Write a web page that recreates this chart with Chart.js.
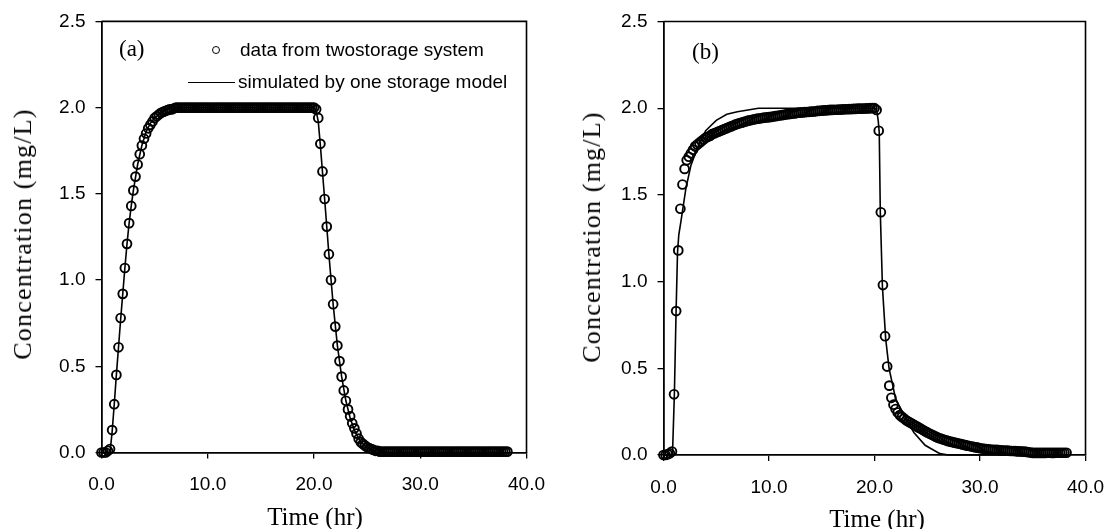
<!DOCTYPE html>
<html lang="en">
<head>
<meta charset="UTF-8">
<title>Concentration vs time, two storage / one storage</title>
<script src="https://cdn.jsdelivr.net/npm/chart.js"></script>
<style>
  body { margin: 0; background: #fff; }
  #wrap { position: relative; width: 1119px; height: 529px; overflow: hidden; }
  canvas { position: absolute; top: 0; }
  .serif { position: absolute; font-family: 'Liberation Serif', 'Times New Roman', serif; color: #000; white-space: nowrap; }
  .ytitle { font-size: 26px; letter-spacing: 1.2px; transform: translate(-50%, -50%) rotate(-90deg); }
  .xtitle { font-size: 25px; transform: translate(-50%, -50%); }
  .tag { font-size: 23px; transform: translateY(-50%); }
  .leg { position: absolute; font-family: 'Liberation Sans', Arial, sans-serif; font-size: 19px; color: #000; white-space: nowrap; transform: translateY(-50%); }
  .legmark { position: absolute; width: 6px; height: 6px; border: 1.8px solid #000; border-radius: 50%; transform: translate(-50%, -50%); }
  .legline { position: absolute; height: 0; border-top: 1.6px solid #000; }
</style>
</head>
<body>
<div id="wrap">
  <canvas id="chartA" width="560" height="529" style="left:0"></canvas>
  <canvas id="chartB" width="559" height="529" style="left:560px"></canvas>

  <div class="serif ytitle" style="left:23px; top:234px">Concentration (mg/L)</div>
  <div class="serif xtitle" style="left:315px; top:517px">Time (hr)</div>
  <div class="serif ytitle" style="left:592px; top:237px">Concentration (mg/L)</div>
  <div class="serif xtitle" style="left:877px; top:519px">Time (hr)</div>

  <div class="serif tag" style="left:119px; top:49px">(a)</div>
  <div class="serif tag" style="left:692px; top:52px">(b)</div>

  <div class="legmark" style="left:216px; top:50px"></div>
  <div class="leg" style="left:240px; top:50px">data from twostorage system</div>
  <div class="legline" style="left:188px; top:82px; width:47px"></div>
  <div class="leg" style="left:238px; top:82px">simulated by one storage model</div>
</div>

<script>
// sampling times of the "data" circles (hr)
const sampleTimes = [
  0, 0.2, 0.4, 0.6, 0.8, 1, 1.2, 1.4, 1.6, 1.8,
  2, 2.2, 2.4, 2.6, 2.8, 3, 3.2, 3.4, 3.6, 3.8,
  4, 4.2, 4.4, 4.6, 4.8, 5, 5.2, 5.4, 5.6, 5.8,
  6, 6.2, 6.4, 6.6, 6.8, 7, 7.2, 7.4, 7.6, 7.8,
  8, 8.2, 8.4, 8.6, 8.8, 9, 9.2, 9.4, 9.6, 9.8,
  10, 10.2, 10.4, 10.6, 10.8, 11, 11.2, 11.4, 11.6, 11.8,
  12, 12.2, 12.4, 12.6, 12.8, 13, 13.2, 13.4, 13.6, 13.8,
  14, 14.2, 14.4, 14.6, 14.8, 15, 15.2, 15.4, 15.6, 15.8,
  16, 16.2, 16.4, 16.6, 16.8, 17, 17.2, 17.4, 17.6, 17.8,
  18, 18.2, 18.4, 18.6, 18.8, 19, 19.2, 19.4, 19.6, 19.8,
  20, 20.2, 20.4, 20.6, 20.8, 21, 21.2, 21.4, 21.6, 21.8,
  22, 22.2, 22.4, 22.6, 22.8, 23, 23.2, 23.4, 23.6, 23.8,
  24, 24.2, 24.4, 24.6, 24.8, 25, 25.2, 25.4, 25.6, 25.8,
  26, 26.2, 26.4, 26.6, 26.8, 27, 27.2, 27.4, 27.6, 27.8,
  28, 28.2, 28.4, 28.6, 28.8, 29, 29.2, 29.4, 29.6, 29.8,
  30, 30.2, 30.4, 30.6, 30.8, 31, 31.2, 31.4, 31.6, 31.8,
  32, 32.2, 32.4, 32.6, 32.8, 33, 33.2, 33.4, 33.6, 33.8,
  34, 34.2, 34.4, 34.6, 34.8, 35, 35.2, 35.4, 35.6, 35.8,
  36, 36.2, 36.4, 36.6, 36.8, 37, 37.2, 37.4, 37.6, 37.8,
  38, 38.2
];

// (a) data from two storage system (mg/L)
const dataA = [
  0, 0, 0, 0.01, 0.02, 0.13, 0.28, 0.45, 0.61, 0.78,
  0.92, 1.07, 1.21, 1.33, 1.43, 1.52, 1.60, 1.67, 1.73, 1.78,
  1.82, 1.85, 1.88, 1.90, 1.92, 1.94, 1.95, 1.96, 1.97, 1.975,
  1.98, 1.985, 1.99, 1.99, 1.995, 2, 2, 2, 2, 2,
  2, 2, 2, 2, 2, 2, 2, 2, 2, 2,
  2, 2, 2, 2, 2, 2, 2, 2, 2, 2,
  2, 2, 2, 2, 2, 2, 2, 2, 2, 2,
  2, 2, 2, 2, 2, 2, 2, 2, 2, 2,
  2, 2, 2, 2, 2, 2, 2, 2, 2, 2,
  2, 2, 2, 2, 2, 2, 2, 2, 2, 2,
  2, 1.99, 1.94, 1.79, 1.63, 1.47, 1.31, 1.15, 1.00, 0.86,
  0.73, 0.62, 0.53, 0.44, 0.36, 0.30, 0.25, 0.21, 0.17, 0.14,
  0.11, 0.08, 0.06, 0.05, 0.04, 0.03, 0.025, 0.02, 0.015, 0.01,
  0.01, 0.005, 0.005, 0.005, 0.005, 0.005, 0.005, 0.005, 0.005, 0.005,
  0.005, 0.005, 0.005, 0.005, 0.005, 0.005, 0.005, 0.005, 0.005, 0.005,
  0.005, 0.005, 0.005, 0.005, 0.005, 0.005, 0.005, 0.005, 0.005, 0.005,
  0.005, 0.005, 0.005, 0.005, 0.005, 0.005, 0.005, 0.005, 0.005, 0.005,
  0.005, 0.005, 0.005, 0.005, 0.005, 0.005, 0.005, 0.005, 0.005, 0.005,
  0.005, 0.005, 0.005, 0.005, 0.005, 0.005, 0.005, 0.005, 0.005, 0.005,
  0.005, 0.005
];

// (b) data from two storage system (mg/L)
const dataB = [
  0, 0, 0.005, 0.01, 0.02, 0.35, 0.83, 1.18, 1.42, 1.56,
  1.65, 1.70, 1.72, 1.74, 1.76, 1.78, 1.79, 1.80, 1.81, 1.82,
  1.83, 1.835, 1.84, 1.85, 1.855, 1.86, 1.865, 1.87, 1.875, 1.88,
  1.885, 1.89, 1.895, 1.90, 1.905, 1.91, 1.913, 1.917, 1.92, 1.924,
  1.928, 1.93, 1.933, 1.936, 1.938, 1.94, 1.942, 1.944, 1.946, 1.947,
  1.948, 1.95, 1.952, 1.954, 1.956, 1.958, 1.96, 1.962, 1.964, 1.966,
  1.967, 1.969, 1.97, 1.972, 1.974, 1.975, 1.976, 1.977, 1.978, 1.979,
  1.98, 1.981, 1.982, 1.984, 1.985, 1.986, 1.987, 1.988, 1.989, 1.99,
  1.99, 1.991, 1.991, 1.992, 1.992, 1.993, 1.994, 1.994, 1.995, 1.995,
  1.996, 1.996, 1.997, 1.997, 1.998, 1.998, 1.999, 1.999, 2, 2,
  2, 1.99, 1.87, 1.40, 0.98, 0.685, 0.51, 0.40, 0.33, 0.29,
  0.265, 0.245, 0.23, 0.22, 0.21, 0.20, 0.193, 0.186, 0.179, 0.172,
  0.165, 0.158, 0.151, 0.144, 0.137, 0.13, 0.124, 0.118, 0.112, 0.106,
  0.10, 0.096, 0.092, 0.088, 0.084, 0.08, 0.077, 0.074, 0.071, 0.068,
  0.066, 0.063, 0.060, 0.057, 0.054, 0.052, 0.049, 0.047, 0.044, 0.042,
  0.039, 0.037, 0.036, 0.034, 0.033, 0.031, 0.030, 0.030, 0.029, 0.028,
  0.027, 0.026, 0.025, 0.025, 0.024, 0.023, 0.023, 0.022, 0.021, 0.021,
  0.020, 0.019, 0.018, 0.016, 0.014, 0.012, 0.012, 0.012, 0.012, 0.012,
  0.012, 0.012, 0.013, 0.013, 0.012, 0.012, 0.013, 0.013, 0.013, 0.013,
  0.013, 0.013
];

// simulated by one storage model, (a)
const modelTimesA = [0, 0.8, 1.0, 1.2, 1.4, 1.6, 1.8, 2.0, 2.2, 2.4, 2.6, 2.8, 3.0, 3.4, 3.8, 4.2, 4.6, 5.0, 5.6, 6.2, 7.0,
  20.0, 20.2, 20.4, 20.6, 21.0, 21.4, 21.8, 22.2, 22.6, 23.0, 23.4, 23.8, 24.2, 24.6, 25.0, 25.6, 26.4, 27.0, 38.2];
const modelA = [0, 0, 0.12, 0.28, 0.45, 0.61, 0.77, 0.92, 1.07, 1.21, 1.33, 1.43, 1.52, 1.67, 1.78, 1.86, 1.91, 1.94, 1.97, 1.99, 2.0,
  2.0, 1.98, 1.92, 1.78, 1.47, 1.15, 0.86, 0.62, 0.44, 0.30, 0.20, 0.13, 0.08, 0.05, 0.03, 0.015, 0.005, 0, 0];

// simulated by one storage model, (b)
const modelTimesB = [0, 0.85, 1.03, 1.19, 1.33, 1.45, 1.66, 2.13, 2.6, 3.2, 3.6, 4.0, 4.5, 5.0, 6.0, 7.0, 8.0, 9.0,
  20.0, 20.2, 20.35, 20.45, 20.55, 20.75, 21.06, 21.38, 22.0, 22.79, 23.73, 24.8, 26.2, 27.0, 38.2];
const modelB = [0, 0, 0.35, 0.82, 1.17, 1.27, 1.35, 1.54, 1.67, 1.77, 1.82, 1.87, 1.90, 1.93, 1.965, 1.98, 1.99, 2.0,
  2.0, 1.99, 1.93, 1.86, 1.40, 0.97, 0.67, 0.50, 0.325, 0.23, 0.13, 0.056, 0.008, 0, 0];

const yTicks = [0, 0.5, 1.0, 1.5, 2.0, 2.5];
const xTicks = [0, 10, 20, 30, 40];

const tickFont = { family: "'Liberation Sans', Arial, sans-serif", size: 19 };

// closes the box: top and right edges of the plot area
const framePlugin = {
  id: 'frame',
  afterDraw(chart) {
    const { ctx, chartArea: a } = chart;
    ctx.save();
    ctx.strokeStyle = '#000';
    ctx.lineWidth = 1.6;
    ctx.beginPath();
    ctx.moveTo(a.left, a.top);
    ctx.lineTo(a.right, a.top);
    ctx.lineTo(a.right, a.bottom);
    ctx.stroke();
    ctx.restore();
  }
};

function pairs(xs, ys) {
  return xs.map((x, i) => ({ x: x, y: ys[i] }));
}

function drawPanel(id, dataVals, mTimes, mVals, box) {
  const canvas = document.getElementById(id);
  const W = canvas.width, H = canvas.height;
  new Chart(canvas, {
    type: 'scatter',
    data: {
      datasets: [
        {
          label: 'simulated by one storage model',
          data: pairs(mTimes, mVals),
          showLine: true,
          borderColor: '#000',
          borderWidth: 1.6,
          pointRadius: 0,
          tension: 0,
          clip: false
        },
        {
          label: 'data from twostorage system',
          data: pairs(sampleTimes, dataVals),
          showLine: false,
          pointStyle: 'circle',
          pointRadius: 4.4,
          pointBorderWidth: 1.9,
          pointBorderColor: '#000',
          pointBackgroundColor: 'rgba(0,0,0,0)',
          clip: false
        }
      ]
    },
    options: {
      responsive: false,
      animation: false,
      events: [],
      layout: { padding: { top: box.top, right: W - box.right, left: 0, bottom: 0 } },
      plugins: { legend: { display: false }, tooltip: { enabled: false } },
      scales: {
        x: {
          type: 'linear',
          min: 0,
          max: 40,
          afterFit: s => { s.height = H - box.bottom; },
          afterBuildTicks: s => { s.ticks = xTicks.map(v => ({ value: v })); },
          ticks: { color: '#000', font: tickFont, padding: 15, maxRotation: 0, callback: v => v.toFixed(1) },
          grid: { drawOnChartArea: false, drawTicks: true, tickLength: 6, color: '#000', lineWidth: 1.3 },
          border: { display: true, color: '#000', width: 1.8 }
        },
        y: {
          min: 0,
          max: 2.5,
          afterFit: s => { s.width = box.left; },
          afterBuildTicks: s => { s.ticks = yTicks.map(v => ({ value: v })); },
          ticks: { color: '#000', font: tickFont, padding: 10, callback: v => v.toFixed(1) },
          grid: { drawOnChartArea: false, drawTicks: true, tickLength: 6, color: '#000', lineWidth: 1.3 },
          border: { display: true, color: '#000', width: 1.8 }
        }
      }
    },
    plugins: [framePlugin]
  });
}

drawPanel('chartA', dataA, modelTimesA, modelA, { left: 101.5, top: 20.5, right: 528.5, bottom: 452.5 });
drawPanel('chartB', dataB, modelTimesB, modelB, { left: 103.5, top: 21.5, right: 530.5, bottom: 455 });
</script>
</body>
</html>
